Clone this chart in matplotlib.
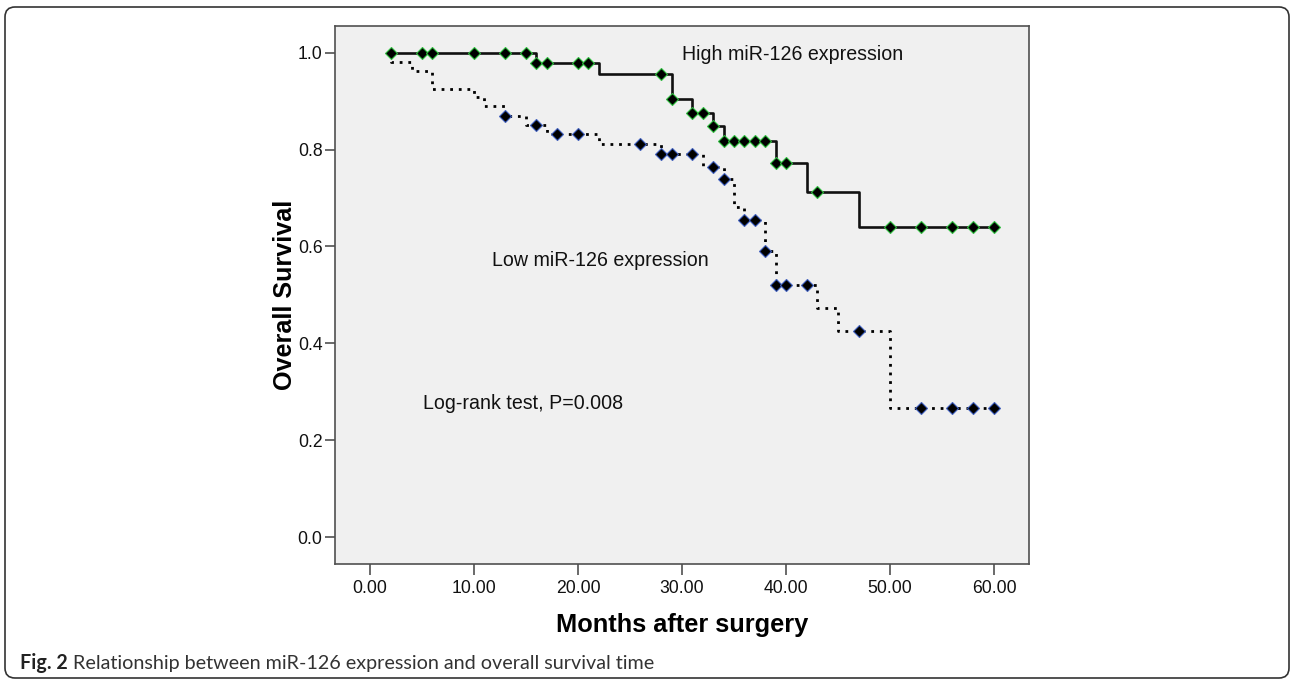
import numpy as np
import matplotlib
matplotlib.use('Agg')
import matplotlib.pyplot as plt
from matplotlib.patches import FancyBboxPatch
from matplotlib.transforms import IdentityTransform

# ---------------- data ----------------
start_time = 2
end_time = 60

high_event_t = [16, 22, 29, 31, 33, 34, 39, 42, 47]
high_event_s = [0.978, 0.956, 0.904, 0.876, 0.849, 0.818, 0.772, 0.712, 0.641]
high_censor_t = [2, 5, 6, 10, 13, 15, 16, 17, 20, 21, 28, 29, 31, 32, 33, 34,
                 35, 36, 37, 38, 39, 40, 43, 50, 53, 56, 58, 60]

low_event_t = [2, 4, 6, 10, 11, 13, 15, 17, 22, 28, 32, 34, 35, 36, 38, 39, 43, 45, 50]
low_event_s = [0.981, 0.962, 0.925, 0.908, 0.889, 0.869, 0.851, 0.832, 0.812, 0.790,
               0.765, 0.739, 0.682, 0.655, 0.591, 0.521, 0.473, 0.426, 0.266]
low_censor_t = [13, 16, 18, 20, 26, 28, 29, 31, 33, 34, 36, 37, 38, 39, 40, 42, 47,
                53, 56, 58, 60]

x_ticks = [0, 10, 20, 30, 40, 50, 60]
x_ticklabels = ['0.00', '10.00', '20.00', '30.00', '40.00', '50.00', '60.00']
y_ticks = [0.0, 0.2, 0.4, 0.6, 0.8, 1.0]
y_ticklabels = ['0.0', '0.2', '0.4', '0.6', '0.8', '1.0']

label_high = 'High miR-126 expression'
label_low = 'Low miR-126 expression'
label_test = 'Log-rank test, P=0.008'
x_label = 'Months after surgery'
y_label = 'Overall Survival'
caption_bold = 'Fig. 2'
caption_rest = 'Relationship between miR-126 expression and overall survival time'

# ---------------- figure ----------------
W, H = 1292, 681
fig = plt.figure(figsize=(W / 100, H / 100), dpi=100)
fig.patch.set_facecolor('white')

left, right, top, bottom = 335, 1028.7, 26, 564.3
ax = fig.add_axes([left / W, 1 - bottom / H, (right - left) / W, (bottom - top) / H])
ax.set_facecolor('#f0f0f0')
ax.set_xlim(-3.37, 63.34)
ax.set_ylim(-0.056, 1.055)

spine_col = '#505050'
for s in ax.spines.values():
    s.set_color(spine_col)
    s.set_linewidth(1.2)

font = ['Liberation Sans', 'DejaVu Sans']
ax.set_xticks(x_ticks)
ax.set_xticklabels(x_ticklabels, fontsize=12.7, family=font, color='#111111')
ax.set_yticks(y_ticks)
ax.set_yticklabels(y_ticklabels, fontsize=12.7, family=font, color='#111111')
ax.tick_params(axis='x', direction='out', length=8, width=1.2, color=spine_col, pad=3)
ax.tick_params(axis='y', direction='out', length=7, width=1.2, color=spine_col, pad=2)


def km_curve(event_t, event_s):
    times = np.array([start_time] + list(event_t) + [end_time], dtype=float)
    surv = np.array([1.0] + list(event_s) + [event_s[-1]], dtype=float)
    return times, surv


def censor_y(times, surv, ct):
    idx = np.searchsorted(times, np.asarray(ct, dtype=float), side='right') - 1
    return surv[idx]


ht, hs = km_curve(high_event_t, high_event_s)
lt, ls = km_curve(low_event_t, low_event_s)

ax.step(lt, ls, where='post', color='black', lw=2.0, linestyle=(0, (1, 2.1)),
        dash_capstyle='butt', zorder=3)
ax.step(ht, hs, where='post', color='#111111', lw=1.9, zorder=3)

ax.plot(low_censor_t, censor_y(lt, ls, low_censor_t), linestyle='none', marker='D',
        markersize=6.3, markerfacecolor='black', markeredgecolor='#3f5fbf',
        markeredgewidth=0.8, zorder=4)
ax.plot(high_censor_t, censor_y(ht, hs, high_censor_t), linestyle='none', marker='D',
        markersize=6.3, markerfacecolor='black', markeredgecolor='#2fbf3f',
        markeredgewidth=0.8, zorder=5)

ax.text(30.0, 0.985, label_high, fontsize=14.1, family=font, color='#111111',
        ha='left', va='baseline')
ax.text(11.73, 0.560, label_low, fontsize=14.1, family=font, color='#111111',
        ha='left', va='baseline')
ax.text(5.07, 0.264, label_test, fontsize=14.1, family=font, color='#111111',
        ha='left', va='baseline')

fig.text(682 / W, 1 - 625 / H, x_label, fontsize=18.3, fontweight='bold', family=font,
         ha='center', va='center', color='black')
fig.text(285 / W, 1 - 295 / H, y_label, fontsize=18.1, fontweight='bold', family=font,
         ha='center', va='center', rotation=90, color='black')

# rounded frame
frame = FancyBboxPatch((5, 3), 1284, 671, boxstyle='round,pad=0,rounding_size=10',
                       transform=IdentityTransform(), facecolor='none',
                       edgecolor='#333333', linewidth=1.2)
fig.add_artist(frame)

# caption
cap_font = ['Lato', 'DejaVu Sans']
t1 = fig.text(20 / W, 1 - 669 / H, caption_bold, fontsize=14.2, fontweight='bold',
              family=cap_font, color='#222222', ha='left', va='baseline')
renderer = fig.canvas.get_renderer()
bb = t1.get_window_extent(renderer=renderer)
fig.text((bb.x1 + 5) / W, 1 - 669 / H, caption_rest, fontsize=14.2,
         family=cap_font, color='#333333', ha='left', va='baseline')

fig.savefig('out.png', dpi=100)
